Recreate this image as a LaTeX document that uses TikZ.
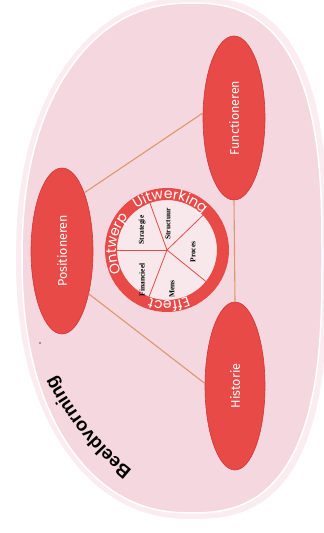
\documentclass[tikz,border=0pt]{standalone}
\usepackage{fontspec}
\newfontfamily\labelfont{Fira Sans}
\newfontfamily\ringfont{Poppins}
\newfontfamily\titlefont{Liberation Sans}
\newfontfamily\sectorfont{Liberation Serif}
\usetikzlibrary{shapes.geometric,decorations.text}
\definecolor{modelpink}{RGB}{245,216,223}
\definecolor{modelglow}{RGB}{250,236,240}
\definecolor{modelred}{RGB}{232,74,72}
\definecolor{modeldark}{RGB}{205,55,55}
\definecolor{modeltan}{RGB}{222,150,112}
\definecolor{modelinner}{RGB}{248,232,235}
% rounded, slightly bowed outline: x radius, y radius, bow
\newcommand{\shell}[3]{plot[domain=1.25:361.25, samples=145, variable=\t]
    ({172 + #1*cos(\t)*pow(abs(cos(\t)),-0.167) + #3*pow(abs(sin(\t)),1.667)},
     {275 + #2*sin(\t)*pow(abs(sin(\t)),-0.167)})}
\tikzset{
    aspect/.style={ellipse, draw=modeldark, fill=modelred, line width=0.6pt, rotate=90, minimum width=166pt, minimum height=62pt, inner sep=0pt, text=white, font=\labelfont\fontsize{12.5}{14}\selectfont},
    link/.style={modeltan, line width=1.1pt},
    spoke/.style={modelred, line width=0.8pt},
    sector/.style={rotate=90, inner sep=0pt, text=black, font=\sectorfont\bfseries\fontsize{7.5}{7.5}\selectfont},
    ringtext/.style={decorate, decoration={text along path, text align=center, text={|\ringfont\fontsize{14}{14}\selectfont\color{white}|#1}}},
}
\begin{document}
\begin{tikzpicture}[x=1pt, y=1pt]
    \useasboundingbox (0,0) rectangle (324,533);
    \clip (0,0) rectangle (324,533);
    \fill[white] (0,0) rectangle (324,533);

    % Beeldvorming
    \fill[modelglow] \shell{156}{261}{22} -- cycle;
    \draw[white, line width=1.5pt, fill=modelpink] \shell{150}{255}{20} -- cycle;
    \path[decorate, decoration={text along path, text align=center, text={|\titlefont\bfseries\fontsize{18.5}{18.5}\selectfont|Beeldvorming}}]
        (321,296) ++(239.2:300) arc [start angle=239.2, end angle=199.2, radius=300];
    \fill[gray] (40,190) circle (1.2);

    % Aspects
    \node[aspect] (pos) at (62,282) {Positioneren};
    \node[aspect, minimum width=164pt] (fun) at (234,415) {Functioneren};
    \node[aspect, minimum width=168pt, minimum height=60pt] (his) at (235,147) {Historie};
    \draw[link] (pos.-21) -- (fun.81);
    \draw[link] (pos.-148) -- (his.85);
    \draw[link] (fun.180) -- (his.0);

    % Organisation wheel
    \coordinate (hub) at (167,283);
    \fill[modelinner] (hub) circle (50);
    \foreach \a in {180,110,44,-39,-111}
        \draw[spoke] (hub) -- ++(\a:50);
    \draw[modelred, line width=12pt] (hub) circle (56);
    \path[ringtext=Ontwerp] (hub) ++(233:51) arc [start angle=233, end angle=113, radius=51];
    \path[ringtext=Uitwerking] (hub) ++(146:51) arc [start angle=146, end angle=26, radius=51];
    \path[ringtext=Effect] (hub) ++(332:51) arc [start angle=332, end angle=212, radius=51];

    % Sectors
    \node[sector] (strat) at (142,303) {Strategie};
    \node[sector] (fin) at (142,253) {Financieel};
    \node[sector] (struc) at (168,309) {Structuur};
    \node[sector] (proc) at (193,281) {Proces};
    \node[sector] (mens) at (172,244) {Mens};
\end{tikzpicture}
\end{document}
